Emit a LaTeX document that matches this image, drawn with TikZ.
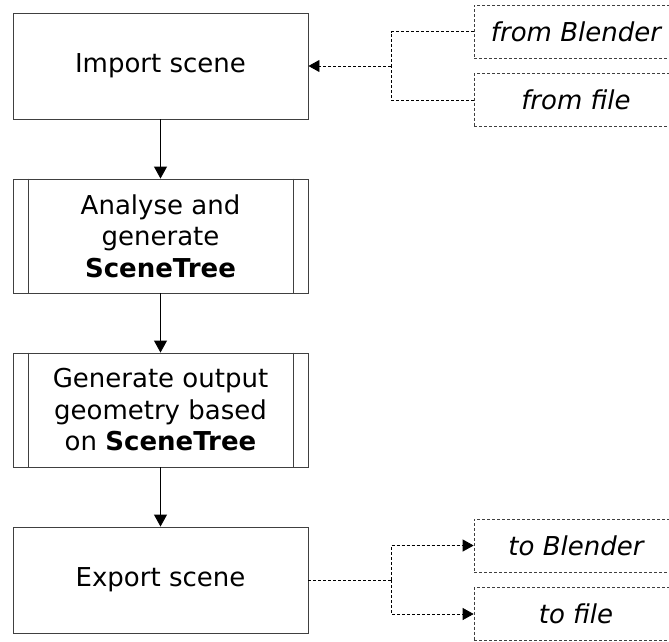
\documentclass[tikz,border=0pt]{standalone}
\usepackage{fontspec}
\setmainfont{DejaVu Sans}
\usetikzlibrary{arrows.meta}
\begin{document}
\begin{tikzpicture}[x=1pt,y=-1pt,
  every node/.style={font=\fontsize{26}{31.5}\selectfont, inner sep=0pt, align=center},
  procbox/.style={draw=black!75, line width=0.9pt, minimum width=295pt, minimum height=106pt},
  subbox/.style={draw=black!75, line width=0.9pt, minimum width=295pt, minimum height=114pt},
  iobox/.style={draw=black!75, line width=0.7pt, dash pattern=on 3pt off 2pt, minimum width=204pt, minimum height=53pt, font=\fontsize{26}{31.5}\selectfont\itshape},
  flow/.style={line width=0.9pt, -{Triangle[length=12pt,width=13pt]}},
  dline/.style={line width=0.8pt, dash pattern=on 3pt off 2pt},
  darrow/.style={dline, -{Triangle[length=11pt,width=12pt]}}
]
\useasboundingbox (0,0) rectangle (669,641);
\node[procbox] (imp) at (160.5,66) {Import scene};
\node[subbox] (ana) at (160.5,236) {Analyse and\\generate\\\textbf{SceneTree}};
\node[subbox] (gen) at (160.5,410) {Generate output\\geometry based\\on \textbf{SceneTree}};
\node[procbox] (exp) at (160.5,580) {Export scene};
\foreach \n in {ana,gen}{
  \draw[black!75, line width=0.9pt] ([xshift=15.5pt]\n.north west) -- ([xshift=15.5pt]\n.south west);
  \draw[black!75, line width=0.9pt] ([xshift=-15.5pt]\n.north east) -- ([xshift=-15.5pt]\n.south east);
}
\node[iobox] (fb) at (576,31.5) {from Blender};
\node[iobox] (ff) at (576,100) {from file};
\node[iobox] (tb) at (576,545.5) {to Blender};
\node[iobox] (tf) at (576,614) {to file};
\coordinate (j1) at (391,66);
\coordinate (j2) at (391,580);
\draw[flow] (imp) -- (ana);
\draw[flow] (ana) -- (gen);
\draw[flow] (gen) -- (exp);
\draw[dline] (fb.west) -| (j1);
\draw[dline] (ff.west) -| (j1);
\draw[darrow] (j1) -- (imp.east);
\draw[dline] (exp.east) -- (j2);
\draw[darrow] (j2) |- (tb.west);
\draw[darrow] (j2) |- (tf.west);
\end{tikzpicture}
\end{document}
